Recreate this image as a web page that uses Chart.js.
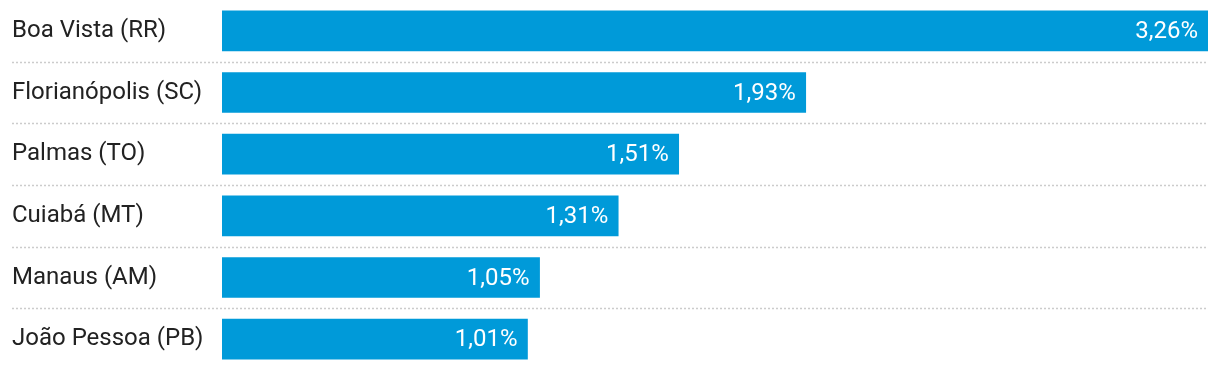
<!DOCTYPE html>
<html>
<head>
<meta charset="utf-8">
<script src="https://cdn.jsdelivr.net/npm/chart.js@4/dist/chart.umd.min.js"></script>
<style>
html,body{margin:0;padding:0;background:#fff;}
canvas{display:block;}
</style>
</head>
<body>
<canvas id="c" width="1220" height="370"></canvas>
<script>
const categories = ["Boa Vista (RR)", "Florianópolis (SC)", "Palmas (TO)", "Cuiabá (MT)", "Manaus (AM)", "João Pessoa (PB)"];
const values = [3.26, 1.93, 1.51, 1.31, 1.05, 1.01];
const valueLabels = values.map(v => v.toFixed(2).replace('.', ',') + '%');

const separators = {
  id: 'separators',
  beforeDatasetsDraw(chart) {
    const y = chart.scales.y, ctx = chart.ctx, area = chart.chartArea;
    ctx.save();
    ctx.strokeStyle = '#cccccc';
    ctx.lineWidth = 1.5;
    ctx.setLineDash([2, 2]);
    for (let i = 0; i < categories.length - 1; i++) {
      const py = Math.round((y.getPixelForValue(i) + y.getPixelForValue(i + 1)) / 2) + 0.5;
      ctx.beginPath();
      ctx.moveTo(12, py);
      ctx.lineTo(area.right, py);
      ctx.stroke();
    }
    ctx.restore();
  }
};

const barLabels = {
  id: 'barLabels',
  afterDatasetsDraw(chart) {
    const ctx = chart.ctx;
    const meta = chart.getDatasetMeta(0);
    ctx.save();
    ctx.fillStyle = '#ffffff';
    ctx.font = '24px Roboto';
    ctx.textAlign = 'right';
    ctx.textBaseline = 'middle';
    meta.data.forEach((bar, i) => {
      ctx.fillText(valueLabels[i], bar.x - 10, bar.y + 1);
    });
    ctx.restore();
  }
};

new Chart(document.getElementById('c'), {
  type: 'bar',
  data: {
    labels: categories,
    datasets: [{
      data: values,
      backgroundColor: '#009ad9',
      barThickness: 40,
      borderWidth: 0
    }]
  },
  options: {
    indexAxis: 'y',
    responsive: false,
    devicePixelRatio: 1,
    animation: false,
    layout: { padding: { left: 12, right: 12, top: 0, bottom: 0 } },
    plugins: { legend: { display: false }, tooltip: { enabled: false } },
    scales: {
      x: { display: false, min: 0, max: 3.26 },
      y: {
        grid: { display: false },
        border: { display: false },
        ticks: {
          crossAlign: 'far',
          padding: 0,
          color: '#222222',
          font: { family: 'Roboto', size: 24 }
        },
        afterFit(scale) {
          scale.width = 210;
          scale.paddingTop = 0;
          scale.paddingBottom = 0;
        }
      }
    }
  },
  plugins: [separators, barLabels]
});
</script>
</body>
</html>
